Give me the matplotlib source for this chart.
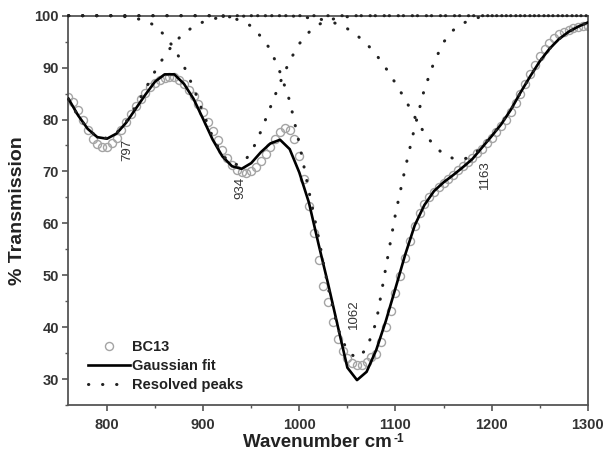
import matplotlib
matplotlib.use("Agg")
import matplotlib.pyplot as plt
from matplotlib.ticker import MultipleLocator

plt.rcParams['font.family'] = ['Liberation Sans', 'DejaVu Sans']

# wavenumber grids (cm-1)
wn_data = list(range(760, 1301, 5))
wn_fit = list(range(760, 1301, 10))

# BC13 measured spectrum (% transmission), every 5 cm-1
bc13 = [84.3, 83.4, 81.9, 80.0, 78.0, 76.3, 75.2, 74.7, 74.8, 75.4,
        76.5, 77.9, 79.5, 81.1, 82.6, 84.0, 85.2, 86.2, 87.0, 87.6,
        88.0, 88.2, 88.1, 87.6, 86.8, 85.7, 84.5, 83.0, 81.4, 79.6,
        77.8, 76.0, 74.2, 72.6, 71.3, 70.3, 69.8, 69.7, 70.1, 70.9,
        72.0, 73.3, 74.8, 76.3, 77.6, 78.3, 78.0, 76.2, 72.9, 68.5,
        63.4, 58.1, 52.9, 48.0, 44.8, 41.0, 37.8, 35.5, 34.0, 33.1,
        32.7, 32.8, 33.3, 34.2, 34.8, 37.2, 40.0, 43.2, 46.5, 49.9,
        53.3, 56.6, 59.5, 61.9, 63.7, 65.0, 66.0, 67.0, 67.8, 68.6,
        69.4, 70.2, 71.0, 71.8, 72.6, 73.5, 74.4, 75.4, 76.4, 77.5,
        78.7, 80.0, 81.5, 83.2, 85.0, 86.9, 88.8, 90.6, 92.2, 93.6,
        94.8, 95.7, 96.4, 96.9, 97.3, 97.6, 97.8, 98.0, 98.1]

# Gaussian fit, every 10 cm-1
gauss_fit = [84.0, 80.8, 78.2, 76.6, 76.3, 77.3, 79.4, 82.1, 84.8, 87.3,
             88.7, 88.7, 86.9, 84.0, 80.1, 76.1, 72.9, 71.0, 70.5, 71.6,
             73.7, 75.4, 76.1, 74.3, 69.8, 64.0, 56.0, 48.3, 40.2, 32.2,
             29.8, 31.4, 35.6, 41.2, 47.5, 53.9, 59.6, 63.5, 66.2, 67.9,
             69.3, 70.8, 72.4, 74.6, 76.8, 79.1, 81.9, 85.2, 88.3, 91.2,
             93.6, 95.5, 96.9, 97.9, 98.7]

# resolved peaks, every 10 cm-1
peak_797 = [83.9, 80.7, 78.2, 76.6, 76.4, 77.4, 79.6, 82.6, 85.9, 89.3,
            92.3, 94.8, 96.6, 97.9, 98.8, 99.4, 99.7, 99.8, 99.9, 100,
            100, 100, 100, 100, 100, 100, 100, 100, 100, 100,
            100, 100, 100, 100, 100, 100, 100, 100, 100, 100,
            100, 100, 100, 100, 100, 100, 100, 100, 100, 100,
            100, 100, 100, 100, 100]
peak_934 = [100, 100, 100, 100, 100, 100, 99.8, 99.5, 99.0, 98.1,
            96.2, 93.7, 90.3, 86.1, 81.3, 76.6, 73.2, 71.3, 71.4, 73.6,
            77.7, 82.4, 87.1, 91.3, 94.6, 96.8, 98.3, 99.1, 99.6, 99.8,
            100, 100, 100, 100, 100, 100, 100, 100, 100, 100,
            100, 100, 100, 100, 100, 100, 100, 100, 100, 100,
            100, 100, 100, 100, 100]
peak_1062 = [100, 100, 100, 100, 100, 100, 100, 100, 100, 100,
             100, 100, 100, 100, 100, 100, 99.9, 99.6, 99.0, 98.0,
             96.0, 93.5, 89.1, 83.6, 75.4, 66.2, 57.3, 47.6, 39.8, 35.3,
             34.0, 35.8, 41.0, 51.5, 61.8, 70.5, 78.5, 85.8, 91.0, 94.9,
             97.2, 98.5, 99.4, 99.8, 100, 100, 100, 100, 100, 100,
             100, 100, 100, 100, 100]
peak_1163 = [100, 100, 100, 100, 100, 100, 100, 100, 100, 100,
             100, 100, 100, 100, 100, 100, 100, 100, 100, 100,
             100, 100, 100, 100, 99.8, 99.6, 99.4, 99.0, 98.4, 97.5,
             96.2, 94.6, 92.5, 89.9, 87.0, 83.9, 80.5, 77.4, 75.0, 73.3,
             72.5, 72.3, 73.0, 74.8, 76.9, 79.2, 81.9, 85.2, 88.3, 91.2,
             93.6, 95.5, 96.9, 97.9, 98.7]

peak_labels = ['797', '934', '1062', '1163']
label_x = [821, 939, 1057, 1193]
label_y = [74.1, 66.8, 42.5, 69.3]

fig = plt.figure(figsize=(6.06, 4.58), dpi=100)
ax = fig.add_axes([0.113, 0.1157, 0.857, 0.850])

ax.plot(wn_data, bc13, 'o', mfc='none', mec='#a4a4a4', ms=5.8, mew=1.0,
        label='BC13', zorder=2)
ax.plot(wn_fit, gauss_fit, '-', color='black', lw=1.9, label='Gaussian fit', zorder=3)
for i, pk in enumerate([peak_797, peak_934, peak_1062, peak_1163]):
    ax.plot(wn_fit, pk, color='#222222', lw=2.2, linestyle=(0, (0.1, 4.5)),
            dash_capstyle='round', clip_on=False, zorder=4,
            label='Resolved peaks' if i == 0 else None)

for txt, x, y in zip(peak_labels, label_x, label_y):
    ax.text(x, y, txt, rotation=90, ha='center', va='center', fontsize=9.5,
            color='#333333')

ax.set_xlim(760, 1300)
ax.set_ylim(25, 100)
ax.xaxis.set_major_locator(MultipleLocator(100))
ax.xaxis.set_minor_locator(MultipleLocator(50))
ax.yaxis.set_major_locator(MultipleLocator(10))
ax.yaxis.set_minor_locator(MultipleLocator(5))
ax.set_yticks([30, 40, 50, 60, 70, 80, 90, 100])

for sp in ax.spines.values():
    sp.set_color('#555555')
    sp.set_linewidth(1.3)
ax.tick_params(which='major', direction='out', length=4, width=1.2, color='#555555',
               labelsize=10.5, pad=3)
ax.tick_params(which='minor', direction='out', length=2.5, width=1.0, color='#555555')
ax.tick_params(axis='x', which='major', pad=5)
for lab in ax.get_xticklabels() + ax.get_yticklabels():
    lab.set_fontweight('bold')
    lab.set_color('#333333')

ax.set_xlabel('Wavenumber cm', fontsize=13.5, fontweight='bold',
              color='#222222', labelpad=2)
ax.xaxis.label.set_x(0.48)
ax.set_ylabel('% Transmission', fontsize=14, fontweight='bold', color='#222222',
              labelpad=6)

leg = ax.legend(loc='lower left', bbox_to_anchor=(0.02, 0.01), frameon=False,
                fontsize=10.5, handlelength=2.9, handletextpad=0.15,
                labelspacing=0.35, borderaxespad=0.2)
for t in leg.get_texts():
    t.set_fontweight('bold')
    t.set_color('#222222')

# small "-1" superscript after the x label
fig.canvas.draw()
bb = ax.xaxis.label.get_window_extent()
fig.text(bb.x1 + 1, bb.y1 + 1, '-1', transform=None, fontsize=8.5,
         fontweight='bold', color='#222222', ha='left', va='top')

fig.savefig('out.png', dpi=100)
